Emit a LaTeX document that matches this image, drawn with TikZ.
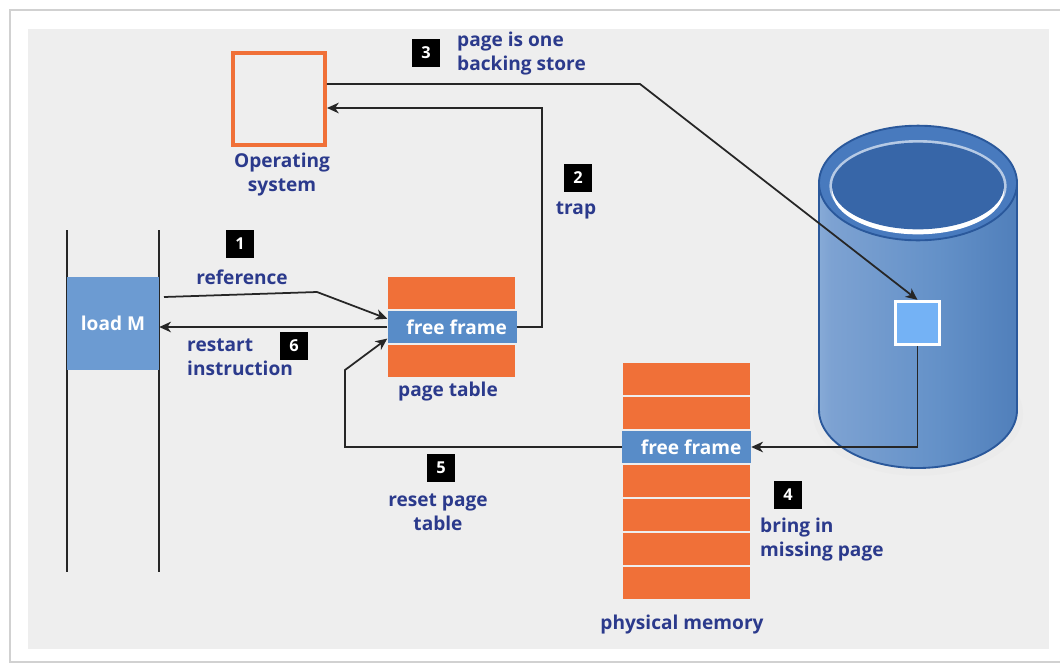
\documentclass[tikz,border=0pt]{standalone}
\usepackage{fontspec}
\setmainfont{Open Sans}
\usetikzlibrary{arrows.meta,calc}

\definecolor{panelgray}{HTML}{EEEEEE}
\definecolor{txtblue}{RGB}{43,58,140}
\definecolor{orng}{RGB}{240,112,56}
\definecolor{rowblue}{RGB}{88,140,200}
\definecolor{loadblue}{RGB}{108,155,210}
\definecolor{sqblue}{RGB}{116,178,245}
\definecolor{cylline}{RGB}{42,88,155}
\definecolor{cylrim}{RGB}{72,122,190}
\definecolor{cyltop}{RGB}{55,102,168}
\definecolor{cA}{RGB}{60,108,172}
\definecolor{cB}{RGB}{130,170,215}
\definecolor{cC}{RGB}{165,195,228}
\definecolor{cD}{RGB}{125,162,210}
\definecolor{cE}{RGB}{100,145,200}
\definecolor{cF}{RGB}{70,118,180}
\definecolor{cG}{RGB}{50,95,160}

\pgfdeclarehorizontalshading{cylbody}{100bp}{color(0bp)=(cA); color(8bp)=(cB); color(16bp)=(cC); color(28bp)=(cD); color(55bp)=(cE); color(85bp)=(cF); color(100bp)=(cG)}

\begin{document}
\begin{tikzpicture}[x=0.03cm,y=-0.03cm,
  lbl/.style={text=txtblue, font=\fontsize{16.3}{20.5}\selectfont\bfseries, align=center, inner sep=0pt},
  badge/.style={fill=black, text=white, font=\fontsize{14}{14}\selectfont\bfseries, minimum size=0.86cm, inner sep=0pt},
  orow/.style={fill=orng, minimum width=3.81cm, minimum height=0.96cm, inner sep=0pt},
  brow/.style={fill=rowblue, minimum width=3.87cm, minimum height=0.98cm, inner sep=0pt, text=white, font=\fontsize{16.3}{18}\selectfont\bfseries},
  conn/.style={draw=black!85, line width=1.5pt, -{Stealth[length=10pt,width=9pt,inset=3pt]}},
  wall/.style={draw=black!85, line width=1.5pt}]

\useasboundingbox (0,0) rectangle (1060,664);
\fill[white] (0,0) rectangle (1060,664);

% card and panel
\draw[draw=black!18, line width=1.5pt, fill=white] (10,10) rectangle (1070,662);
\fill[panelgray] (28,29) rectangle (1049,649);

% operating system
\node[draw=orng, line width=3.4pt, minimum size=2.76cm, inner sep=0pt] (os) at (279,99) {};
\node[lbl] (oslbl) at (282,175) {Operating\\system};

% process with load instruction
\draw[wall] (67,230) -- (67,572);
\draw[wall] (159,230) -- (159,572);
\node[fill=loadblue, minimum width=2.76cm, minimum height=2.79cm, inner sep=0pt,
      text=white, font=\fontsize{16.3}{18}\selectfont\bfseries] (loadM) at (113,323.5) {load M};

% page table
\node[orow] (pttop) at (451.5,293) {};
\node[brow] (ptfree) at (452,327) {\hspace{8pt}free frame};
\node[orow] (ptbot) at (451.5,361) {};
\node[lbl] (ptlbl) at (448,392) {page table};

% physical memory
\node[orow] (pm1) at (686.5,379) {};
\node[orow] (pm2) at (686.5,413) {};
\node[brow] (pmfree) at (686.5,447) {\hspace{8pt}free frame};
\node[orow] (pm4) at (686.5,481) {};
\node[orow] (pm5) at (686.5,515) {};
\node[orow] (pm6) at (686.5,549) {};
\node[orow] (pm7) at (686.5,583) {};
\node[lbl] (pmlbl) at (682,625) {physical memory};

% backing store cylinder
\fill[black!8] (918,414) ellipse [x radius=3.15cm, y radius=1.85cm];
\shade[shading=cylbody] (819,183) -- (819,410) arc[start angle=180, end angle=360, x radius=2.97cm, y radius=1.74cm] -- (1017,183) -- cycle;
\draw[cylline, line width=1.6pt] (819,183) -- (819,410) arc[start angle=180, end angle=360, x radius=2.97cm, y radius=1.74cm] -- (1017,183);
\filldraw[fill=cylrim, draw=cylline, line width=1.6pt] (918,183) ellipse [x radius=2.97cm, y radius=1.72cm];
\fill[white!60!cylrim] (918,186) ellipse [x radius=2.66cm, y radius=1.38cm];
\fill[white] (918,191) ellipse [x radius=2.58cm, y radius=1.3cm];
\fill[cyltop] (918,186) ellipse [x radius=2.58cm, y radius=1.3cm];
\node[fill=sqblue, draw=white, line width=2.5pt, minimum size=1.3cm, inner sep=0pt] (disk) at (917.5,323) {};

% step badges and labels
\node[badge] (b1) at (240,244) {1};
\node[lbl] (l1) at (242,277) {reference};
\node[badge] (b2) at (578,178) {2};
\node[lbl] (l2) at (576,210) {trap};
\node[badge] (b3) at (426,53) {3};
\node[lbl, align=left, anchor=west] (l3) at (457,54) {page is one\\backing store};
\node[badge] (b4) at (788,495) {4};
\node[lbl, align=left, anchor=west] (l4) at (760,540) {bring in\\missing page};
\node[badge] (b5) at (441,468) {5};
\node[lbl] (l5) at (438,512) {reset page\\table};
\node[badge] (b6) at (294,346) {6};
\node[lbl, align=left, anchor=west] (l6) at (187,357) {restart\\instruction};

% routing points
\coordinate (refstart) at (164,297);
\coordinate (refbend) at (317,292);
\coordinate (trapc) at (542,108);
\coordinate (bsbend) at (640,84);
\coordinate (resetc) at (345,370);

% connectors
\draw[conn] (refstart) -- (refbend) -- ($(ptfree.north west)!0.25!(ptfree.south west)$);
\draw[conn] (ptfree.west) -- (loadM.east |- ptfree.west);
\draw[conn] (ptfree.east) -| (trapc) -- (trapc -| os.east);
\draw[conn] (bsbend -| os.east) -- (bsbend) -- (disk.north);
\draw[conn] (disk.south) |- (pmfree.east);
\draw[conn] (pmfree.west) -| (resetc) -- ($(ptfree.south west)!0.15!(ptfree.north west)$);

\end{tikzpicture}
\end{document}
